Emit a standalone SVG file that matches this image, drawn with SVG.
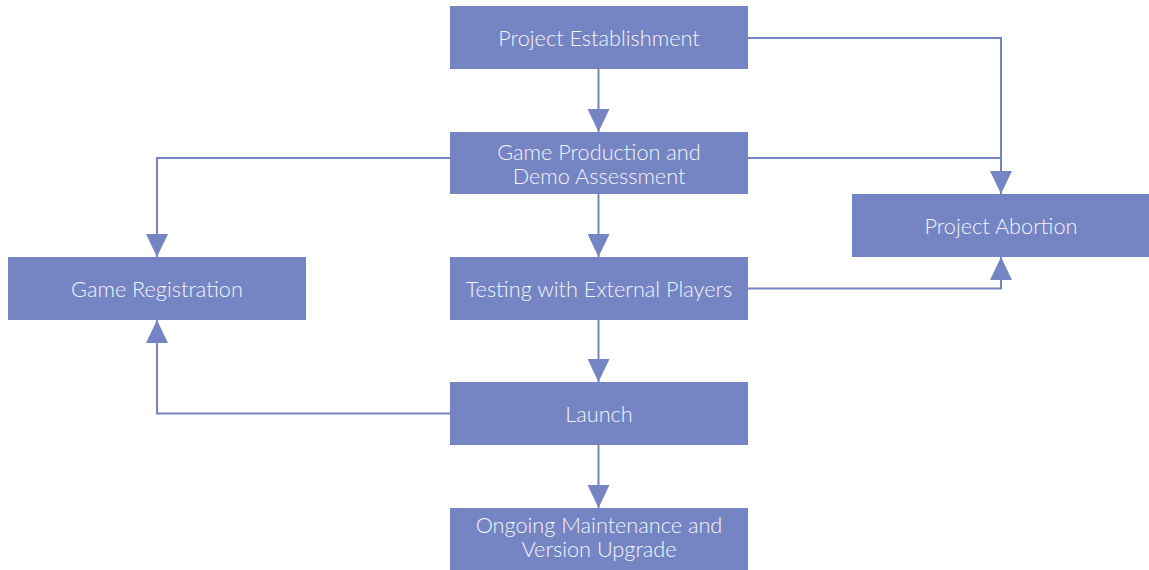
<svg xmlns="http://www.w3.org/2000/svg" width="1149" height="570" viewBox="0 0 1149 570">
<style>
.n{fill:#7585c3}
.t{fill:#f3f4fa;font-family:Lato,"Open Sans",sans-serif;font-weight:300;font-size:21.7px;text-anchor:middle}
.c{fill:none;stroke:#7585c3;stroke-width:2}
</style>
<defs>
<marker id="a" viewBox="0 0 23 22" refX="23" refY="11" markerWidth="23" markerHeight="22" markerUnits="userSpaceOnUse" orient="auto">
<path d="M0,0 L23,11 L0,22 Z" fill="#7585c3"/>
</marker>
</defs>
<rect width="1149" height="570" fill="#ffffff"/>
<g id="connectors">
<path class="c" d="M598.5,69 V132" marker-end="url(#a)"/>
<path class="c" d="M598.5,194 V257" marker-end="url(#a)"/>
<path class="c" d="M598.5,320 V382" marker-end="url(#a)"/>
<path class="c" d="M598.5,445 V508" marker-end="url(#a)"/>
<path class="c" d="M748,38 H1001 V194" marker-end="url(#a)"/>
<path class="c" d="M748,158 H1001"/>
<path class="c" d="M748,288.5 H1001 V257" marker-end="url(#a)"/>
<path class="c" d="M450,158 H157 V257" marker-end="url(#a)"/>
<path class="c" d="M450,413.5 H157 V320" marker-end="url(#a)"/>
</g>
<g id="n1"><rect class="n" x="450" y="6" width="298" height="63"/><text class="t" x="599" y="46">Project Establishment</text></g>
<g id="n2"><rect class="n" x="450" y="132" width="298" height="62"/><text class="t" x="599" y="160">Game Production and</text><text class="t" x="599" y="184">Demo Assessment</text></g>
<g id="n3"><rect class="n" x="450" y="257" width="298" height="63"/><text class="t" x="599" y="297">Testing with External Players</text></g>
<g id="n4"><rect class="n" x="450" y="382" width="298" height="63"/><text class="t" x="599" y="422">Launch</text></g>
<g id="n5"><rect class="n" x="450" y="508" width="298" height="62"/><text class="t" x="599" y="533">Ongoing Maintenance and</text><text class="t" x="599" y="557">Version Upgrade</text></g>
<g id="n6"><rect class="n" x="852" y="194" width="297" height="63"/><text class="t" x="1001" y="234">Project Abortion</text></g>
<g id="n7"><rect class="n" x="8" y="257" width="298" height="63"/><text class="t" x="157" y="297">Game Registration</text></g>
</svg>
